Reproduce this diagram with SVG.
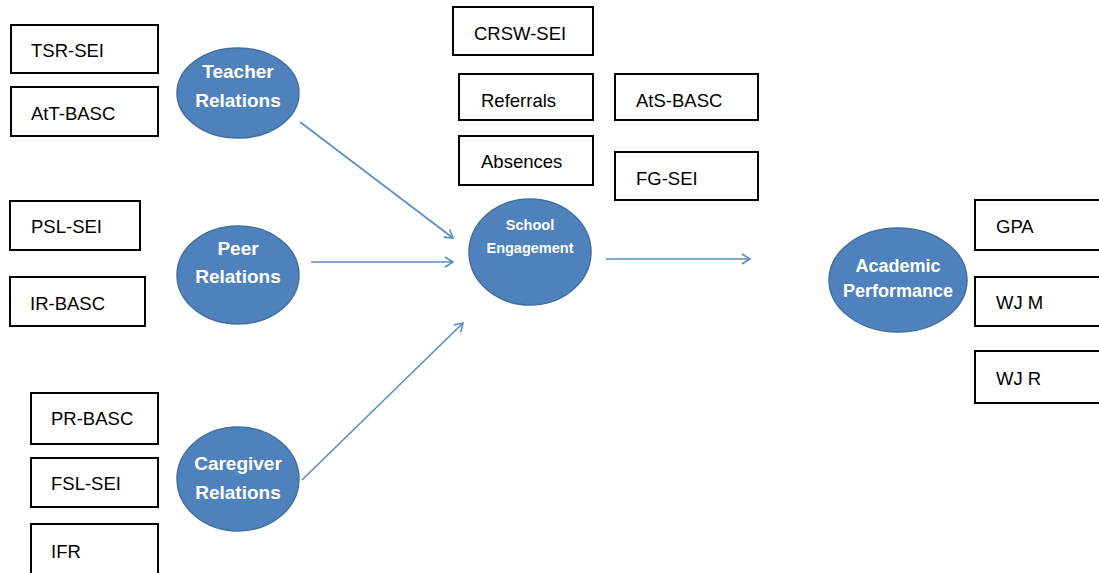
<svg xmlns="http://www.w3.org/2000/svg" width="1099" height="573" viewBox="0 0 1099 573">
<style>
.box{fill:#fff;stroke:#000;stroke-width:2}
.bt{font-family:"Liberation Sans",Arial,sans-serif;font-size:18.5px;fill:#000}
.ell{fill:#4f81bd;stroke:#41709f;stroke-width:1.5}
.et{font-family:"Liberation Sans",Arial,sans-serif;font-weight:bold;fill:#fff;text-anchor:middle}
.conn{stroke:#5b8bc6;stroke-width:1.6;fill:none;marker-end:url(#ah)}
</style>
<defs>
<marker id="ah" markerWidth="12" markerHeight="12" refX="10" refY="6" orient="auto" markerUnits="userSpaceOnUse">
<path d="M2,1 L10,6 L2,11" fill="none" stroke="#5b8bc6" stroke-width="1.6"/>
</marker>
</defs>
<rect width="1099" height="573" fill="#fff"/>
<g id="connectors">
<line class="conn" x1="300" y1="122" x2="453" y2="238"/>
<line class="conn" x1="311" y1="262" x2="453" y2="262"/>
<line class="conn" x1="302" y1="480" x2="463" y2="323"/>
<line class="conn" x1="606" y1="259" x2="750" y2="259"/>
</g>
<g id="tsr-sei"><rect class="box" x="11" y="25" width="147" height="48"/><text class="bt" x="31" y="57">TSR-SEI</text></g>
<g id="att-basc"><rect class="box" x="11" y="87" width="147" height="49"/><text class="bt" x="31" y="120">AtT-BASC</text></g>
<g id="psl-sei"><rect class="box" x="10" y="201" width="130" height="49"/><text class="bt" x="31" y="233">PSL-SEI</text></g>
<g id="ir-basc"><rect class="box" x="10" y="277" width="135" height="49"/><text class="bt" x="30" y="310">IR-BASC</text></g>
<g id="pr-basc"><rect class="box" x="31" y="393" width="127" height="51"/><text class="bt" x="51" y="425">PR-BASC</text></g>
<g id="fsl-sei"><rect class="box" x="31" y="458" width="127" height="49"/><text class="bt" x="51" y="490">FSL-SEI</text></g>
<g id="ifr"><rect class="box" x="31" y="524" width="127" height="52"/><text class="bt" x="51" y="558">IFR</text></g>
<g id="crsw-sei"><rect class="box" x="453" y="7" width="140" height="48"/><text class="bt" x="474" y="40">CRSW-SEI</text></g>
<g id="referrals"><rect class="box" x="459" y="74" width="134" height="46"/><text class="bt" x="481" y="107">Referrals</text></g>
<g id="ats-basc"><rect class="box" x="615" y="74" width="143" height="46"/><text class="bt" x="636" y="107">AtS-BASC</text></g>
<g id="absences"><rect class="box" x="459" y="136" width="134" height="49"/><text class="bt" x="481" y="168">Absences</text></g>
<g id="fg-sei"><rect class="box" x="615" y="152" width="143" height="48"/><text class="bt" x="636" y="185">FG-SEI</text></g>
<g id="gpa"><rect class="box" x="975" y="200" width="130" height="50"/><text class="bt" x="996" y="233">GPA</text></g>
<g id="wj-m"><rect class="box" x="975" y="277" width="130" height="49"/><text class="bt" x="996" y="309">WJ M</text></g>
<g id="wj-r"><rect class="box" x="975" y="351" width="130" height="52"/><text class="bt" x="996" y="385">WJ R</text></g>
<g id="teacher-relations"><ellipse class="ell" cx="238" cy="93" rx="61" ry="45"/><text class="et" font-size="19" x="238" y="78">Teacher</text><text class="et" font-size="19" x="238" y="107">Relations</text></g>
<g id="peer-relations"><ellipse class="ell" cx="238" cy="275" rx="61" ry="49"/><text class="et" font-size="19" x="238" y="255">Peer</text><text class="et" font-size="19" x="238" y="283">Relations</text></g>
<g id="caregiver-relations"><ellipse class="ell" cx="238" cy="479" rx="61" ry="52"/><text class="et" font-size="19" x="238" y="470">Caregiver</text><text class="et" font-size="19" x="238" y="499">Relations</text></g>
<g id="school-engagement"><ellipse class="ell" cx="530" cy="252" rx="61" ry="53"/><text class="et" font-size="14.5" x="530" y="230">School</text><text class="et" font-size="14.5" x="530" y="253">Engagement</text></g>
<g id="academic-performance"><ellipse class="ell" cx="898" cy="280" rx="69" ry="52"/><text class="et" font-size="18" x="898" y="272">Academic</text><text class="et" font-size="18" x="898" y="297">Performance</text></g>
</svg>
